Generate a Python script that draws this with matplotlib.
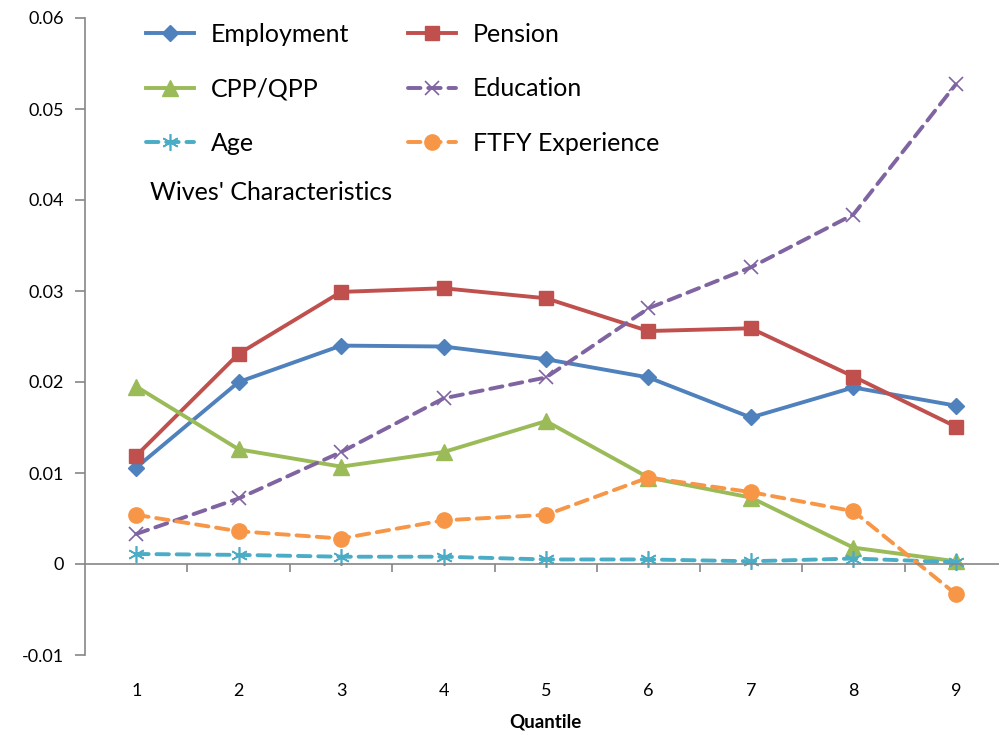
import matplotlib
matplotlib.use("Agg")
import matplotlib.pyplot as plt
import numpy as np

# data
quantile = [1, 2, 3, 4, 5, 6, 7, 8, 9]
employment = [0.0106, 0.0200, 0.0240, 0.0239, 0.0225, 0.0205, 0.0161, 0.0194, 0.0174]
pension = [0.0119, 0.0231, 0.0299, 0.0303, 0.0292, 0.0256, 0.0259, 0.0206, 0.0151]
cpp_qpp = [0.0195, 0.0126, 0.0107, 0.0123, 0.0157, 0.0095, 0.0073, 0.0018, 0.0003]
education = [0.0033, 0.0072, 0.0123, 0.0182, 0.0205, 0.0281, 0.0326, 0.0384, 0.0527]
age = [0.0011, 0.0010, 0.0008, 0.0008, 0.0005, 0.0005, 0.0003, 0.0006, 0.0002]
ftfy = [0.0054, 0.0036, 0.0028, 0.0048, 0.0054, 0.0095, 0.0079, 0.0058, -0.0033]

plt.rcParams['font.family'] = ['Lato', 'DejaVu Sans']

fig = plt.figure(figsize=(9.99, 7.33), dpi=100)
ax = fig.add_axes([85/999, 1-655/733, 922/999, 637/733])

lw = 2.8
dash = dict(dashes=(3.2, 2.0), dash_capstyle='round')
h_emp, = ax.plot(quantile, employment, color='#4F81BD', lw=lw, marker='D', ms=8, label='Employment')
h_pen, = ax.plot(quantile, pension, color='#C0504D', lw=lw, marker='s', ms=10, label='Pension')
h_cpp, = ax.plot(quantile, cpp_qpp, color='#9BBB59', lw=lw, marker='^', ms=11, label='CPP/QPP')
h_edu, = ax.plot(quantile, education, color='#8064A2', lw=lw, marker='x', ms=10, mew=1.2,
                 label='Education', **dash)
h_age, = ax.plot(quantile, age, color='#4BACC6', lw=lw, marker=(6, 2, 0), ms=12, mew=1.2,
                 label='Age', **dash)
h_ftf, = ax.plot(quantile, ftfy, color='#F79646', lw=lw, marker='o', ms=11,
                 label='FTFY Experience', **dash)

ax.set_xlim(0.5, 9.5)
ax.set_ylim(-0.01, 0.06)
ax.set_yticks(np.arange(-0.01, 0.061, 0.01))
ax.set_yticklabels(['-0.01', '0', '0.01', '0.02', '0.03', '0.04', '0.05', '0.06'])

for s in ['top', 'right']:
    ax.spines[s].set_visible(False)
ax.spines['left'].set_color('#868686')
ax.spines['bottom'].set_color('#868686')
ax.spines['bottom'].set_position(('data', 0))
ax.spines['left'].set_linewidth(1.2)
ax.spines['bottom'].set_linewidth(1.2)

ax.set_xticks(quantile)
ax.set_xticklabels([str(q) for q in quantile])
ax.set_xticks(np.arange(1.5, 9.0, 1.0), minor=True)
ax.tick_params(axis='x', which='major', length=0, pad=86, labelsize=13)
ax.tick_params(axis='x', which='minor', length=6, direction='out', color='#868686', width=1.2)
ax.tick_params(axis='y', length=7, direction='out', color='#868686', width=1.2, labelsize=13, pad=8)

ax.set_xlabel('Quantile', fontsize=13.5, fontweight='bold')
ax.xaxis.set_label_coords(545/999, 19/733, transform=fig.transFigure)

handles = [h_emp, h_cpp, h_age, h_pen, h_edu, h_ftf]
leg = ax.legend(handles=handles, ncol=2, loc='upper left', bbox_to_anchor=(133/999, 1-10/733),
                bbox_transform=fig.transFigure, frameon=False, fontsize=18,
                handlelength=1.95, handletextpad=0.65, labelspacing=1.27,
                columnspacing=2.35, borderpad=0)
fig.text(150/999, 1-193/733, "Wives' Characteristics", fontsize=18, va='center')

plt.savefig('out.png', dpi=100)
